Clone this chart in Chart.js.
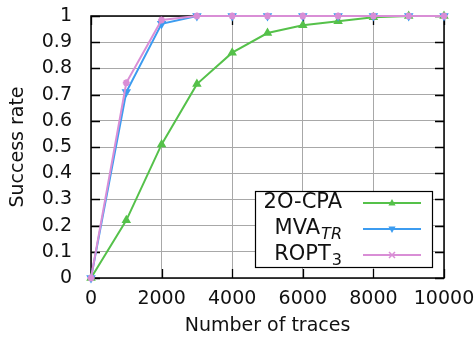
<!DOCTYPE html>
<html lang="en">
<head>
    <meta charset="UTF-8">
    <title>Success rate vs number of traces</title>
    <script src="https://cdn.jsdelivr.net/npm/chart.js"></script>
    <style>
        html, body { margin: 0; padding: 0; background: #fff; }
        #wrap { width: 476px; height: 337px; }
    </style>
</head>
<body>
<div id="wrap"><canvas id="rateChart" width="476" height="337"></canvas></div>
<script>
// data
const traces = [0, 1000, 2000, 3000, 4000, 5000, 6000, 7000, 8000, 9000, 10000];
const cpa2o = [0, 0.22, 0.51, 0.74, 0.86, 0.935, 0.965, 0.98, 0.995, 1, 1];
const mvaTR = [0, 0.71, 0.97, 1, 1, 1, 1, 1, 1, 1, 1];
const ropt3 = [0, 0.745, 0.985, 1, 1, 1, 1, 1, 1, 1, 1];
const seriesNames = ['2O-CPA', 'MVA', 'ROPT'];
const seriesSubs = ['', 'TR', '3'];

const FONT = 'DejaVu Sans';

function pts(ys) {
    return traces.map((x, i) => ({ x: x, y: ys[i] }));
}

// gnuplot-like frame with inner ticks, drawn under the curves
const innerTicks = {
    id: 'innerTicks',
    beforeDatasetsDraw(chart) {
        const { ctx, chartArea: a, scales } = chart;
        ctx.save();
        ctx.strokeStyle = '#000';
        ctx.lineWidth = 1.3;
        ctx.beginPath();
        scales.y.ticks.forEach(t => {
            const y = Math.round(scales.y.getPixelForValue(t.value)) + 0.5;
            ctx.moveTo(a.left, y); ctx.lineTo(a.left + 9, y);
            ctx.moveTo(a.right, y); ctx.lineTo(a.right - 9, y);
        });
        scales.x.ticks.forEach(t => {
            const x = Math.round(scales.x.getPixelForValue(t.value)) + 0.5;
            ctx.moveTo(x, a.bottom); ctx.lineTo(x, a.bottom - 9);
            ctx.moveTo(x, a.top); ctx.lineTo(x, a.top + 9);
        });
        ctx.stroke();
        ctx.lineWidth = 1.5;
        ctx.strokeRect(a.left, a.top, a.right - a.left, a.bottom - a.top);
        ctx.restore();
    }
};

// legend box inside the plot, text on the left, sample line on the right
const boxLegend = {
    id: 'boxLegend',
    afterDraw(chart) {
        const { ctx } = chart;
        const bx = 255, by = 191, bw = 177, bh = 76;
        ctx.save();
        ctx.fillStyle = '#fff';
        ctx.fillRect(bx, by, bw, bh);
        ctx.strokeStyle = '#000';
        ctx.lineWidth = 1.2;
        ctx.strokeRect(bx + 0.5, by + 0.5, bw, bh);
        chart.data.datasets.forEach((ds, i) => {
            const y = 203 + i * 26;
            ctx.fillStyle = '#111';
            ctx.textBaseline = 'middle';
            const sub = seriesSubs[i];
            let right = 342;
            if (sub) {
                ctx.font = (i === 1 ? 'italic ' : '') + '16px "' + FONT + '"';
                const sw = ctx.measureText(sub).width;
                ctx.textAlign = 'right';
                ctx.fillText(sub, right, y + 6);
                right -= sw + 1;
            }
            ctx.font = '21px "' + FONT + '"';
            ctx.textAlign = 'right';
            ctx.fillText(seriesNames[i], right, y);
            ctx.strokeStyle = ds.borderColor;
            ctx.lineWidth = 2;
            ctx.beginPath();
            ctx.moveTo(363, y); ctx.lineTo(421, y);
            ctx.stroke();
            drawMarker(ctx, ds.pointStyle, ds.pointRotation || 0, 392, y, ds.borderColor);
        });
        ctx.restore();
    }
};

function drawMarker(ctx, style, rot, x, y, color) {
    ctx.save();
    ctx.fillStyle = color;
    ctx.strokeStyle = color;
    ctx.lineWidth = 1.5;
    ctx.translate(x, y);
    ctx.rotate(rot * Math.PI / 180);
    if (style === 'triangle') {
        ctx.beginPath();
        ctx.moveTo(0, -4); ctx.lineTo(3.6, 2.4); ctx.lineTo(-3.6, 2.4);
        ctx.closePath(); ctx.fill();
    } else {
        ctx.beginPath();
        ctx.moveTo(-3, -3); ctx.lineTo(3, 3);
        ctx.moveTo(-3, 3); ctx.lineTo(3, -3);
        ctx.moveTo(-4, 0); ctx.lineTo(4, 0);
        ctx.stroke();
    }
    ctx.restore();
}

const ctx = document.getElementById('rateChart').getContext('2d');
new Chart(ctx, {
    type: 'line',
    data: {
        datasets: [
            { label: '2O-CPA', data: pts(cpa2o), borderColor: '#55c14a', backgroundColor: '#55c14a',
              pointStyle: 'triangle', pointRadius: 3.5, borderWidth: 2, clip: false, order: 2 },
            { label: 'MVA_TR', data: pts(mvaTR), borderColor: '#3c9cf0', backgroundColor: '#3c9cf0',
              pointStyle: 'triangle', pointRotation: 180, pointRadius: 3.5, borderWidth: 2, clip: false, order: 1 },
            { label: 'ROPT_3', data: pts(ropt3), borderColor: '#d98ed6', backgroundColor: '#d98ed6',
              pointStyle: 'star', pointRadius: 3.5, borderWidth: 2, clip: false, order: 0 }
        ]
    },
    options: {
        responsive: false,
        animation: false,
        events: [],
        layout: { padding: { top: 16, right: 32, left: 0, bottom: 0 } },
        plugins: { legend: { display: false }, tooltip: { enabled: false } },
        scales: {
            x: {
                type: 'linear', min: 0, max: 10000,
                ticks: { stepSize: 2000, autoSkip: false, color: '#111', font: { family: FONT, size: 19 }, padding: 10, maxRotation: 0,
                         callback: v => String(v) },
                grid: { color: '#a8a8a8', lineWidth: 1, tickLength: 0 },
                border: { display: false },
                title: { display: true, text: 'Number of traces', color: '#111', font: { family: FONT, size: 19 }, padding: { top: 4, bottom: 0 } },
                afterFit(s) { s.height = 59; s.paddingLeft = 0; s.paddingRight = 0; }
            },
            y: {
                min: 0, max: 1,
                ticks: { stepSize: 0.1, autoSkip: false, color: '#111', font: { family: FONT, size: 19 }, padding: 19,
                         callback: v => String(Number(v.toFixed(1))) },
                grid: { color: '#a8a8a8', lineWidth: 1, tickLength: 0 },
                border: { display: false },
                title: { display: true, text: 'Success rate', color: '#111', font: { family: FONT, size: 19 }, padding: { top: 7, bottom: 0 } },
                afterFit(s) { s.width = 91; s.paddingTop = 0; s.paddingBottom = 0; }
            }
        }
    },
    plugins: [innerTicks, boxLegend]
});
</script>
</body>
</html>
